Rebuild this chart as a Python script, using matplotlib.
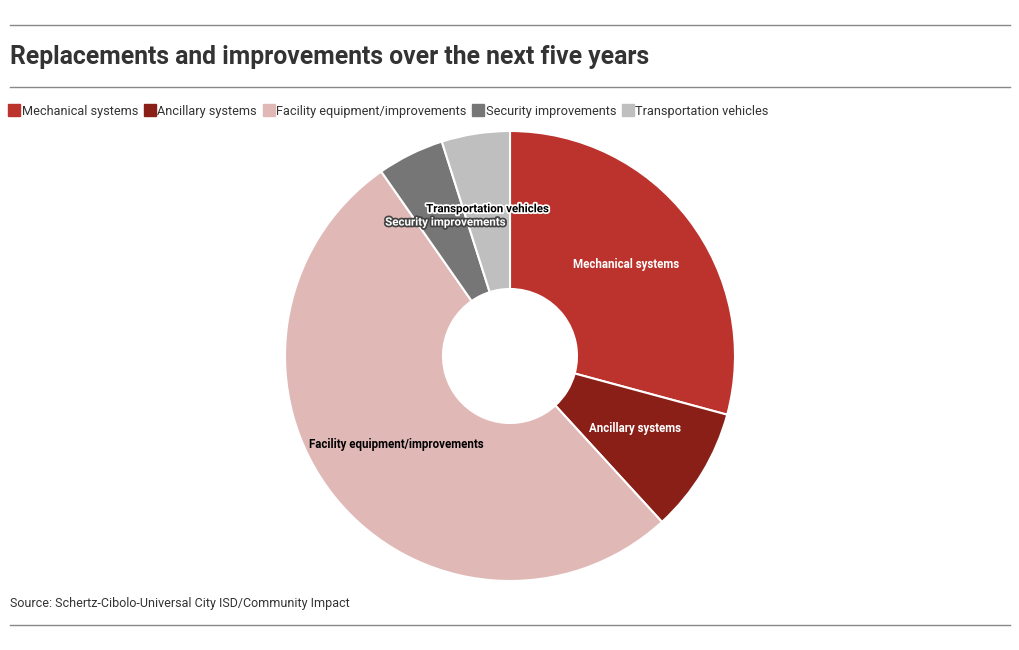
import matplotlib.pyplot as plt
import matplotlib.patheffects as pe
from matplotlib.lines import Line2D
import numpy as np

# доли (%)
categories = ['Mechanical systems', 'Ancillary systems', 'Facility equipment/improvements',
              'Security improvements', 'Transportation vehicles']
values = [29.2, 9.0, 52.1, 4.8, 4.9]
colors = ['#bc322c', '#8a1f18', '#e0b8b6', '#767676', '#bfbfbf']
label_colors = ['white', 'white', 'black', 'white', 'black']
halo_colors = [None, None, None, '#444444', 'white']

plt.rcParams['font.family'] = ['Roboto', 'DejaVu Sans']

W, H = 1020, 650
fig = plt.figure(figsize=(W / 100, H / 100), dpi=100)

# линии сверху/снизу
for yy in (25, 87, 625):
    fig.add_artist(Line2D([10 / W, 1010 / W], [1 - yy / H] * 2, color='#888888', lw=1))

fig.text(10 / W, 1 - 57 / H, 'Replacements and improvements over the next five years',
         fontsize=17.8, fontweight='bold', color='#333333', va='center', ha='left')
fig.text(10 / W, 1 - 603 / H, 'Source: Schertz-Cibolo-Universal City ISD/Community Impact',
         fontsize=9, color='#333333', va='center', ha='left')

# легенда
handles = [Line2D([], [], marker='s', ls='', markersize=9, markerfacecolor=c,
                  markeredgecolor=c) for c in colors]
fig.legend(handles, categories, loc='center left', bbox_to_anchor=(4 / W, 1 - 111 / H),
           ncol=5, frameon=False, handlelength=0.8, handletextpad=0.2, columnspacing=0.5,
           fontsize=9.2, labelcolor='#333333', borderaxespad=0)

# бублик
r_out, r_in = 225, 67
cx, cy = 510, 356
ax = fig.add_axes([(cx - r_out) / W, (H - cy - r_out) / H, 2 * r_out / W, 2 * r_out / H])
wedges, _ = ax.pie(values, colors=colors, startangle=90, counterclock=False,
                   wedgeprops=dict(width=1 - r_in / r_out, edgecolor='white', linewidth=1.5))
ax.set_xlim(-1, 1)
ax.set_ylim(-1, 1)
ax.set_aspect('equal')
ax.axis('off')

mid_r = (1 + r_in / r_out) / 2
dy = 3 / r_out
for w, lab, tc, hc in zip(wedges, categories, label_colors, halo_colors):
    ang = np.deg2rad((w.theta1 + w.theta2) / 2)
    t = ax.text(mid_r * np.cos(ang), mid_r * np.sin(ang) + dy, lab, ha='center', va='center',
                fontsize=8.3, fontweight='bold', color=tc)
    if hc:
        t.set_path_effects([pe.withStroke(linewidth=2.5, foreground=hc)])

fig.savefig('out.png', dpi=100)
